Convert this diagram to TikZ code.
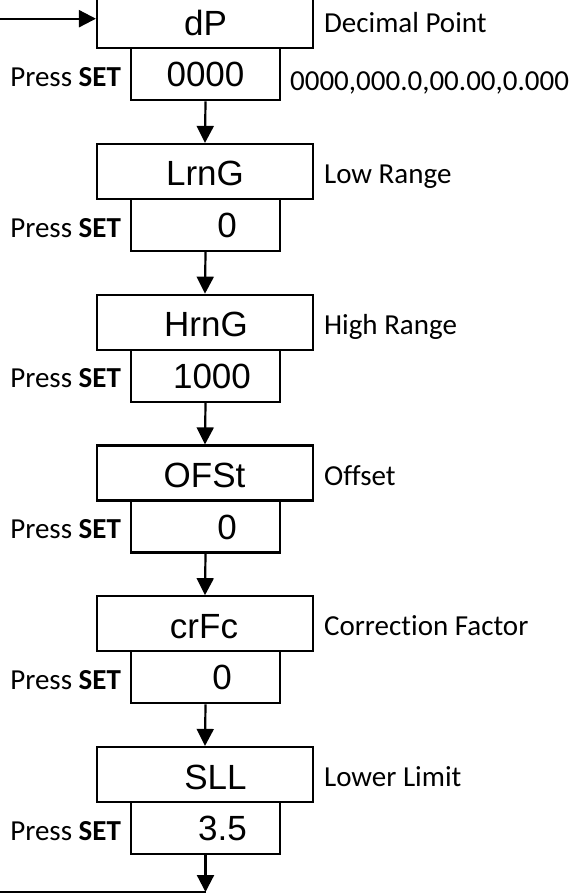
\documentclass[tikz,border=0pt]{standalone}
\usepackage{fontspec}
\setmainfont{Carlito}[Ligatures={NoCommon}]
\newfontfamily\segfont{Liberation Sans}
\usetikzlibrary{arrows.meta}
\begin{document}
\begin{tikzpicture}[x=1pt,y=-1pt,line width=2.2pt,
  namebox/.style={draw,minimum width=216pt,minimum height=55pt,inner sep=0pt},
  valbox/.style={draw,fill=white,minimum width=149pt,minimum height=52pt,inner sep=0pt},
  segtxt/.style={anchor=base,inner sep=0pt,font=\segfont\fontsize{35}{40}\selectfont},
  lbl/.style={anchor=base west,inner sep=0pt,font=\fontsize{29}{34}\selectfont},
  press/.style={anchor=base east,inner sep=0pt,font=\fontsize{29}{34}\selectfont},
  flow/.style={-{Triangle[length=17pt 0 0,width=17pt 0 0]}}]
\useasboundingbox (0,0) rectangle (588,893);
\clip (0,0) rectangle (588,893);
% boxes
\foreach \nm/\t in {dp/-6.75,lr/144,hr/294.75,of/445.5,cr/596.25,sl/747}{
  \node[namebox] (\nm n) at (205,\t+27.5) {};
  \node[valbox] (\nm v) at (205.5,\t+81) {};
  \node[press] (\nm p) at (122,\t+93) {Press \textbf{SET}};
}
% display texts
\node[segtxt] (dpt) at (205.5,35.25) {dP};
\node[segtxt] (dpvt) at (205.5,86.75) {0000};
\node[segtxt] (lrt) at (205,186) {LrnG};
\node[segtxt] (lrvt) at (227,237.5) {0};
\node[segtxt] (hrt) at (206,336.75) {HrnG};
\node[segtxt] (hrvt) at (212,388.25) {1000};
\node[segtxt] (oft) at (204.5,487.5) {OFSt};
\node[segtxt] (ofvt) at (227,539) {0};
\node[segtxt] (crt) at (204,638.25) {crFc};
\node[segtxt] (crvt) at (222,689.75) {0};
\node[segtxt] (slt) at (215.5,789) {SLL};
\node[segtxt] (slvt) at (222.5,840.5) {3.5};
% right labels
\node[lbl] (dpl) at (323,32.75) {Decimal Point};
\node[lbl] (dpol) at (289,91) {0000,000.0,00.00,0.000};
\node[lbl] (lrl) at (323,183.5) {Low Range};
\node[lbl] (hrl) at (323,334.25) {High Range};
\node[lbl] (ofl) at (323,485) {Offset};
\node[lbl] (crl) at (323,635.75) {Correction Factor};
\node[lbl] (sll) at (323,786.5) {Lower Limit};
% connectors
\coordinate (in) at (0,18.7);
\draw[flow] (in) -- (in -| dpn.west);
\draw[flow] (dpv.south) -- (lrn.north);
\draw[flow] (lrv.south) -- (hrn.north);
\draw[flow] (hrv.south) -- (ofn.north);
\draw[flow] (ofv.south) -- (crn.north);
\draw[flow] (crv.south) -- (sln.north);
\coordinate (bend) at (205.5,892);
\coordinate (out) at (0,892);
\draw[flow] (slv.south) -- (bend);
\draw (bend) -- (out);
\end{tikzpicture}
\end{document}
